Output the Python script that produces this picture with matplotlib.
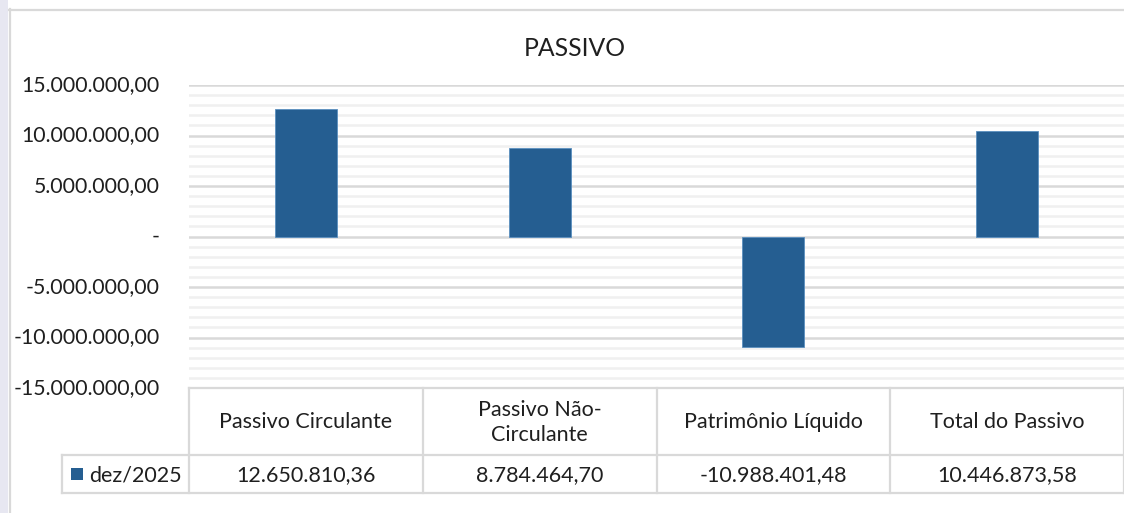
import textwrap
import matplotlib
matplotlib.use("Agg")
import matplotlib.pyplot as plt
from matplotlib.lines import Line2D
from matplotlib.patches import Rectangle
from matplotlib.ticker import MultipleLocator, FuncFormatter

categories = ["Passivo Circulante", "Passivo Não-Circulante", "Patrimônio Líquido", "Total do Passivo"]
values = [12650810.36, 8784464.70, -10988401.48, 10446873.58]
series_name = "dez/2025"
title = "PASSIVO"

W, H = 1124, 513
BLUE = "#255E91"
TXT = "#1f1f1f"
FONT = ["Lato", "DejaVu Sans"]
plt.rcParams["font.family"] = FONT


def br(v, dec=2):
    s = f"{abs(v):,.{dec}f}".replace(",", "X").replace(".", ",").replace("X", ".")
    return ("-" if v < 0 else "") + s


fig = plt.figure(figsize=(W / 100, H / 100), dpi=100)


def fx(px):
    return px / W


def fy(py):
    return 1 - py / H


# page strip and chart border
fig.add_artist(Rectangle((0, 0), fx(8), 1, transform=fig.transFigure, color="#e7e7f1", lw=0))
fig.add_artist(Line2D([fx(9), 1], [fy(9.5), fy(9.5)], transform=fig.transFigure, color="#d9d9d9", lw=1.6))
fig.add_artist(Line2D([fx(9.5), fx(9.5)], [fy(9), 0], transform=fig.transFigure, color="#d9d9d9", lw=1.6))

L, R, T, B = 189, 1124, 85, 388
ax = fig.add_axes([fx(L), fy(B), fx(R) - fx(L), fy(T) - fy(B)])
x = list(range(len(categories)))
ax.bar(x, values, width=0.265, color=BLUE, edgecolor="#5b8fbf", linewidth=0.6, zorder=3)
ax.set_xlim(-0.5, len(categories) - 0.5)
ax.set_ylim(-15e6, 15e6)
ax.yaxis.set_major_locator(MultipleLocator(5e6))
ax.yaxis.set_minor_locator(MultipleLocator(1e6))
ax.yaxis.set_major_formatter(FuncFormatter(lambda v, p: "-" if abs(v) < 1 else br(v)))
ax.grid(True, which="major", axis="y", color="#d9d9d9", lw=1.8, zorder=0)
ax.grid(True, which="minor", axis="y", color="#f0f0f0", lw=1.8, zorder=0)
ax.set_xticks([])
ax.tick_params(axis="y", which="both", length=0, pad=21, labelsize=15.3, labelcolor=TXT)
for lab in ax.get_yticklabels():
    lab.set_verticalalignment("center")
for s in ax.spines.values():
    s.set_visible(False)

fig.text(fx(575), fy(48), title, ha="center", va="center", fontsize=17.8, color=TXT)

# data table
lc = "#d9d9d9"
lw = 1.6
colw = (R - L) / len(categories)
row1, row2, row3 = 388, 455, 493
leg_l = 62


def hline(y, x0, x1):
    fig.add_artist(Line2D([fx(x0), fx(x1)], [fy(y), fy(y)], transform=fig.transFigure, color=lc, lw=lw))


def vline(xp, y0, y1):
    fig.add_artist(Line2D([fx(xp), fx(xp)], [fy(y0), fy(y1)], transform=fig.transFigure, color=lc, lw=lw))


hline(row1, L, R)
hline(row2, leg_l, R)
hline(row3, leg_l, R)
vline(leg_l, row2, row3)
for i in range(len(categories) + 1):
    vline(L + i * colw, row1, row3)

FS = 15.5
for i, (c, v) in enumerate(zip(categories, values)):
    cx = L + (i + 0.5) * colw
    fig.text(fx(cx), fy((row1 + row2) / 2 + 1), textwrap.fill(c, 20), ha="center", va="center",
             fontsize=FS, color=TXT, linespacing=1.3)
    fig.text(fx(cx), fy((row2 + row3) / 2 + 1), br(v), ha="center", va="center",
             fontsize=FS, color=TXT)

fig.add_artist(Rectangle((fx(71), fy(480)), fx(12), fy(468) - fy(480), transform=fig.transFigure,
                         color=BLUE, lw=0))
fig.text(fx(89), fy((row2 + row3) / 2 + 1), series_name, ha="left", va="center", fontsize=FS, color=TXT)

fig.savefig("out.png", dpi=100)
